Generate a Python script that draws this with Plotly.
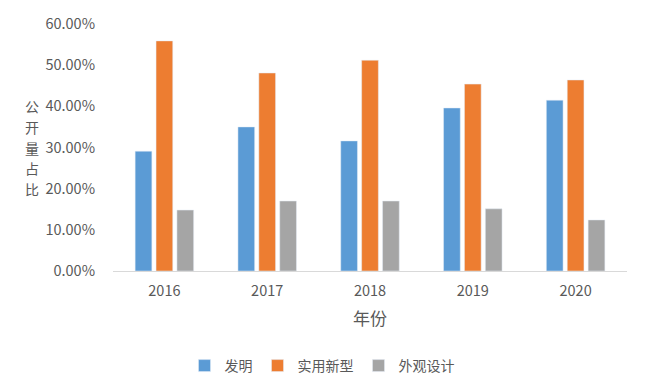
import plotly.graph_objects as go

years = ["2016", "2017", "2018", "2019", "2020"]
invention = [29.1, 35.0, 31.6, 39.6, 41.5]
utility = [55.9, 48.1, 51.2, 45.4, 46.4]
design = [14.8, 17.0, 17.0, 15.1, 12.4]
y_ticks = [0, 10, 20, 30, 40, 50, 60]
y_tick_text = ["0.00%", "10.00%", "20.00%", "30.00%", "40.00%", "50.00%", "60.00%"]
y_title_chars = ["公", "开", "量", "占", "比"]

FONT = "Noto Sans CJK SC, Microsoft YaHei, sans-serif"
TXT = "#595959"
L, R, T, B = 113, 18, 24, 116
W, H = 645, 387
pw, ph = W - L - R, H - T - B

fig = go.Figure()
fig.add_bar(x=years, y=invention, name="发明", marker_color="#5B9BD5")
fig.add_bar(x=years, y=utility, name="实用新型", marker_color="#ED7D31")
fig.add_bar(x=years, y=design, name="外观设计", marker_color="#A5A5A5")

anns = []
for i, ch in enumerate(y_title_chars):
    ypix = 106 + i * 20.8
    anns.append(dict(text=ch, x=(32 - L) / pw, y=(H - B - ypix) / ph, xref="paper", yref="paper",
                     xanchor="center", yanchor="middle", showarrow=False,
                     font=dict(size=14, color=TXT, family=FONT)))

fig.update_layout(
    width=W, height=H,
    margin=dict(l=L, r=R, t=T, b=B, autoexpand=False),
    paper_bgcolor="white", plot_bgcolor="white",
    barmode="group", bargap=0.39, bargroupgap=0.2,
    font=dict(family=FONT, color=TXT, size=13),
    showlegend=True,
    legend=dict(orientation="h", x=(322 - L) / pw, xanchor="center",
                y=-(366 - (H - B)) / ph, yanchor="middle",
                font=dict(size=14, color=TXT), traceorder="normal"),
    xaxis=dict(showline=True, linecolor="#D9D9D9", linewidth=1, ticks="",
               automargin=False, ticklabelstandoff=7,
               tickfont=dict(size=14.5, color=TXT),
               title=dict(text="年份", font=dict(size=17, color=TXT), standoff=13)),
    yaxis=dict(range=[0, 60], tickvals=y_ticks, ticktext=y_tick_text, showgrid=False,
               zeroline=False, showline=False, ticks="", ticklabelstandoff=17,
               automargin=False, tickfont=dict(size=14.5, color=TXT)),
    annotations=anns,
)
fig.write_html("out.html", post_script="document.body.style.margin='0';",
               config={"displayModeBar": False})
